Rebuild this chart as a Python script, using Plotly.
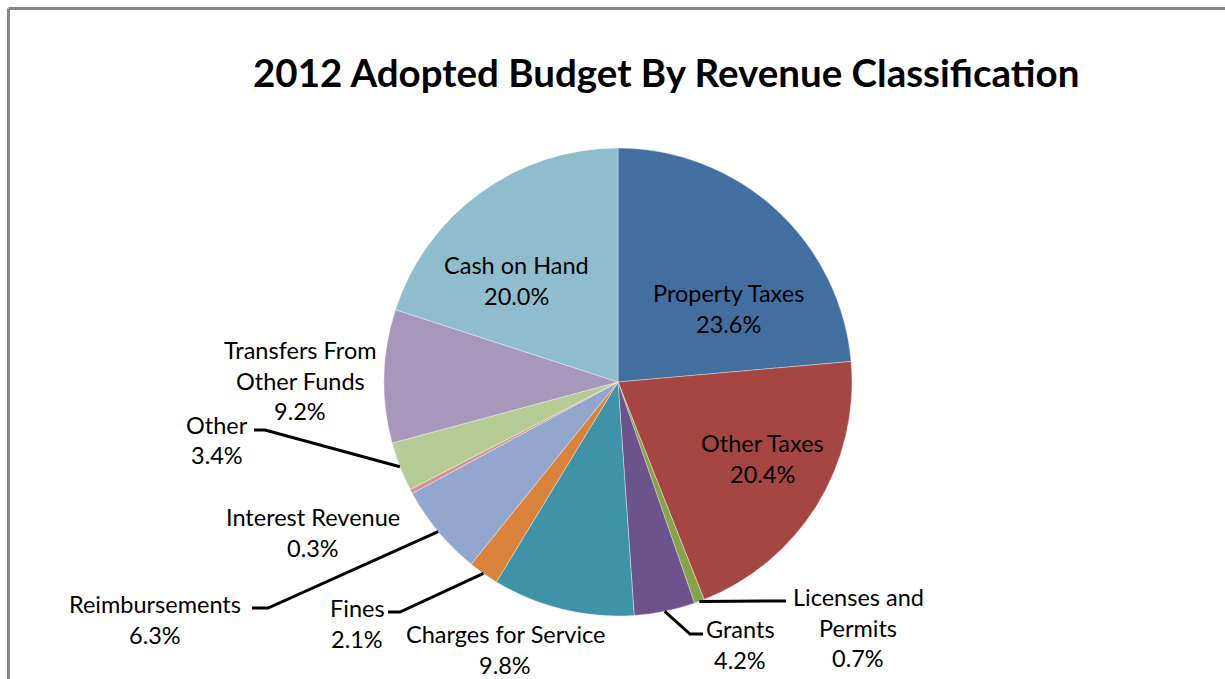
import math
import plotly.graph_objects as go

# Revenue classification shares (percent), clockwise from 12 o'clock
categories = [
    "Property Taxes", "Other Taxes", "Licenses and Permits", "Grants",
    "Charges for Service", "Fines", "Reimbursements", "Interest Revenue",
    "Other", "Transfers From Other Funds", "Cash on Hand",
]
shares = [23.6, 20.4, 0.7, 4.2, 9.8, 2.1, 6.3, 0.3, 3.4, 9.2, 20.0]
colors = [
    "#426EA0", "#A54643", "#87A24A", "#6A548B", "#3F93A9", "#DA833D",
    "#93A7CE", "#D29493", "#B7CC94", "#A798BB", "#8FBDCE",
]
# Label text lines per slice (name lines, value line)
label_lines = [
    ["Property Taxes"], ["Other Taxes"], ["Licenses and", "Permits"], ["Grants"],
    ["Charges for Service"], ["Fines"], ["Reimbursements"], ["Interest Revenue"],
    ["Other"], ["Transfers From", "Other Funds"], ["Cash on Hand"],
]

W, H = 1225, 679
CX, CY, R = 618, 382, 234  # pie centre and radius in pixels

# Label centre positions (pixels, first line)
label_pos = {
    "Property Taxes": (728, 293),
    "Other Taxes": (762, 443),
    "Licenses and Permits": (858, 597),
    "Grants": (740, 629),
    "Charges for Service": (505, 634),
    "Fines": (357, 608),
    "Reimbursements": (155, 604),
    "Interest Revenue": (313, 517),
    "Other": (217, 425),
    "Transfers From Other Funds": (300, 350),
    "Cash on Hand": (516, 265),
}
# leader lines: (elbow point, text-side end point) in pixels
leaders = {
    "Licenses and Permits": ((786, 601), (786, 601)),
    "Grants": ((690, 634), (703, 634)),
    "Fines": ((400, 612), (388, 612)),
    "Reimbursements": ((268, 608), (252, 608)),
    "Other": ((265, 430), (254, 430)),
}

FONT = "Lato, 'Open Sans', sans-serif"
LINE_H = 30.5


def px(x):
    return x / W


def py(y):
    return 1 - y / H


fig = go.Figure(go.Pie(
    labels=categories,
    values=shares,
    sort=False,
    direction="clockwise",
    rotation=0,
    marker=dict(colors=colors, line=dict(color="rgba(255,255,255,0.6)", width=0.6)),
    textinfo="none",
    hoverinfo="label+percent",
    showlegend=False,
    domain=dict(x=[px(CX - R), px(CX + R)], y=[py(CY + R), py(CY - R)]),
))

annotations = []
shapes = []
total = sum(shares)
cum = 0.0
for name, val, lines in zip(categories, shares, label_lines):
    mid = (cum + val / 2) / total * 2 * math.pi
    cum += val
    lx, ly = label_pos[name]
    text_lines = lines + [f"{val:.1f}%"]
    for k, t in enumerate(text_lines):
        annotations.append(dict(
            x=px(lx), y=py(ly + k * LINE_H), xref="paper", yref="paper",
            text=t, showarrow=False, xanchor="center", yanchor="middle",
            font=dict(family=FONT, size=23.5, color="#000000"),
        ))
    if name in leaders:
        ex = CX + R * math.sin(mid)
        ey = CY - R * math.cos(mid)
        (bx, by), (tx, ty) = leaders[name]
        path = f"M {px(ex)},{py(ey)} L {px(bx)},{py(by)} L {px(tx)},{py(ty)}"
        shapes.append(dict(type="path", path=path, xref="paper", yref="paper",
                           line=dict(color="#000000", width=3)))

# chart area frame (left and top edges)
shapes.append(dict(type="line", xref="paper", yref="paper",
                   x0=px(8.5), y0=py(8.5), x1=px(8.5), y1=0,
                   line=dict(color="#878787", width=3)))
shapes.append(dict(type="line", xref="paper", yref="paper",
                   x0=px(8.5), y0=py(8.5), x1=1, y1=py(8.5),
                   line=dict(color="#878787", width=3)))

annotations.append(dict(
    x=px(666), y=py(72), xref="paper", yref="paper",
    text="<b>2012 Adopted Budget By Revenue Classification</b>",
    showarrow=False, xanchor="center", yanchor="middle",
    font=dict(family=FONT, size=38.5, color="#000000"),
))

fig.update_layout(
    width=W, height=H,
    margin=dict(l=0, r=0, t=0, b=0),
    paper_bgcolor="white", plot_bgcolor="white",
    annotations=annotations, shapes=shapes,
)

fig.write_html("out.html")
